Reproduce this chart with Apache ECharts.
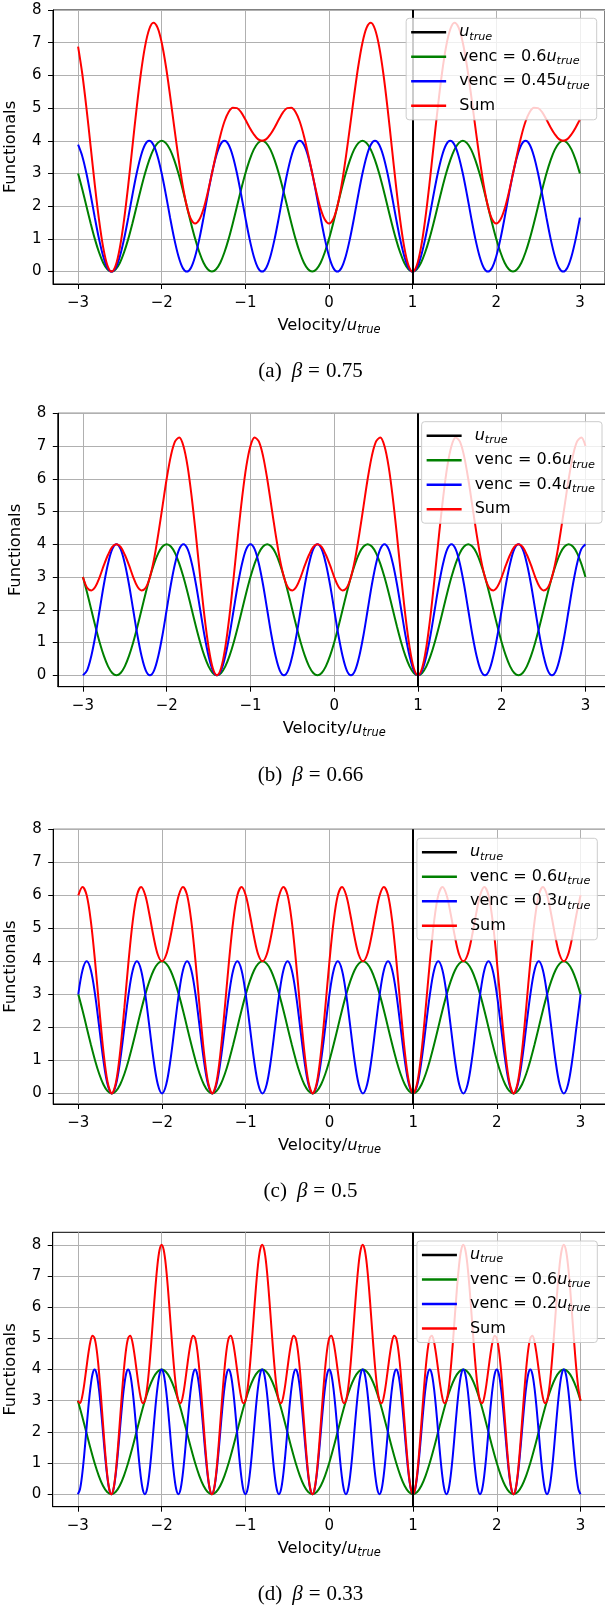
<!DOCTYPE html>
<html><head><meta charset="utf-8">
<script src="https://cdn.jsdelivr.net/npm/echarts@6/dist/echarts.min.js"></script>
<style>html,body{margin:0;padding:0;background:#fff}#chart{width:605px;height:1606px}</style>
</head><body><div id="chart"></div>
<script>
// ---------- data ----------
const velocity = [
-3,-2.95,-2.9,-2.85,-2.8,-2.75,-2.7,-2.65,-2.6,-2.55,-2.5,-2.45,-2.4,-2.35,-2.3,-2.25,-2.2,-2.15,-2.1,-2.05,
-2,-1.95,-1.9,-1.85,-1.8,-1.75,-1.7,-1.65,-1.6,-1.55,-1.5,-1.45,-1.4,-1.35,-1.3,-1.25,-1.2,-1.15,-1.1,-1.05,
-1,-0.95,-0.9,-0.85,-0.8,-0.75,-0.7,-0.65,-0.6,-0.55,-0.5,-0.45,-0.4,-0.35,-0.3,-0.25,-0.2,-0.15,-0.1,-0.05,
0,0.05,0.1,0.15,0.2,0.25,0.3,0.35,0.4,0.45,0.5,0.55,0.6,0.65,0.7,0.75,0.8,0.85,0.9,0.95,
1,1.05,1.1,1.15,1.2,1.25,1.3,1.35,1.4,1.45,1.5,1.55,1.6,1.65,1.7,1.75,1.8,1.85,1.9,1.95,
2,2.05,2.1,2.15,2.2,2.25,2.3,2.35,2.4,2.45,2.5,2.55,2.6,2.65,2.7,2.75,2.8,2.85,2.9,2.95,
3];
// finer velocity grid used for the fast-oscillating curves of panel (d)
const velocityFine = [
-3,-2.975,-2.95,-2.925,-2.9,-2.875,-2.85,-2.825,-2.8,-2.775,-2.75,-2.725,-2.7,-2.675,-2.65,-2.625,-2.6,-2.575,-2.55,-2.525,-2.5,-2.475,-2.45,-2.425,-2.4,-2.375,-2.35,-2.325,-2.3,-2.275,-2.25,-2.225,-2.2,-2.175,-2.15,-2.125,-2.1,-2.075,-2.05,-2.025,
-2,-1.975,-1.95,-1.925,-1.9,-1.875,-1.85,-1.825,-1.8,-1.775,-1.75,-1.725,-1.7,-1.675,-1.65,-1.625,-1.6,-1.575,-1.55,-1.525,-1.5,-1.475,-1.45,-1.425,-1.4,-1.375,-1.35,-1.325,-1.3,-1.275,-1.25,-1.225,-1.2,-1.175,-1.15,-1.125,-1.1,-1.075,-1.05,-1.025,
-1,-0.975,-0.95,-0.925,-0.9,-0.875,-0.85,-0.825,-0.8,-0.775,-0.75,-0.725,-0.7,-0.675,-0.65,-0.625,-0.6,-0.575,-0.55,-0.525,-0.5,-0.475,-0.45,-0.425,-0.4,-0.375,-0.35,-0.325,-0.3,-0.275,-0.25,-0.225,-0.2,-0.175,-0.15,-0.125,-0.1,-0.075,-0.05,-0.025,
0,0.025,0.05,0.075,0.1,0.125,0.15,0.175,0.2,0.225,0.25,0.275,0.3,0.325,0.35,0.375,0.4,0.425,0.45,0.475,0.5,0.525,0.55,0.575,0.6,0.625,0.65,0.675,0.7,0.725,0.75,0.775,0.8,0.825,0.85,0.875,0.9,0.925,0.95,0.975,
1,1.025,1.05,1.075,1.1,1.125,1.15,1.175,1.2,1.225,1.25,1.275,1.3,1.325,1.35,1.375,1.4,1.425,1.45,1.475,1.5,1.525,1.55,1.575,1.6,1.625,1.65,1.675,1.7,1.725,1.75,1.775,1.8,1.825,1.85,1.875,1.9,1.925,1.95,1.975,
2,2.025,2.05,2.075,2.1,2.125,2.15,2.175,2.2,2.225,2.25,2.275,2.3,2.325,2.35,2.375,2.4,2.425,2.45,2.475,2.5,2.525,2.55,2.575,2.6,2.625,2.65,2.675,2.7,2.725,2.75,2.775,2.8,2.825,2.85,2.875,2.9,2.925,2.95,2.975,
3];
const xTicks = [-3,-2,-1,0,1,2,3];
const yTicks = [0,1,2,3,4,5,6,7,8];
const uTrue = 1;

const greenVenc06 = [
3,2.52,2,1.48,1,0.59,0.27,0.07,0,0.07,0.27,0.59,1,1.48,2,2.52,3,3.41,3.73,3.93,4,3.93,3.73,3.41,
3,2.52,2,1.48,1,0.59,0.27,0.07,0,0.07,0.27,0.59,1,1.48,2,2.52,3,3.41,3.73,3.93,4,3.93,3.73,3.41,
3,2.52,2,1.48,1,0.59,0.27,0.07,0,0.07,0.27,0.59,1,1.48,2,2.52,3,3.41,3.73,3.93,4,3.93,3.73,3.41,
3,2.52,2,1.48,1,0.59,0.27,0.07,0,0.07,0.27,0.59,1,1.48,2,2.52,3,3.41,3.73,3.93,4,3.93,3.73,3.41,
3,2.52,2,1.48,1,0.59,0.27,0.07,0,0.07,0.27,0.59,1,1.48,2,2.52,3,3.41,3.73,3.93,4,3.93,3.73,3.41,
3];

const blueVenc045 = [
3.88,3.53,3,2.35,1.65,1,0.47,0.12,
0,0.12,0.47,1,1.65,2.35,3,3.53,3.88,4,3.88,3.53,3,2.35,1.65,1,0.47,0.12,
0,0.12,0.47,1,1.65,2.35,3,3.53,3.88,4,3.88,3.53,3,2.35,1.65,1,0.47,0.12,
0,0.12,0.47,1,1.65,2.35,3,3.53,3.88,4,3.88,3.53,3,2.35,1.65,1,0.47,0.12,
0,0.12,0.47,1,1.65,2.35,3,3.53,3.88,4,3.88,3.53,3,2.35,1.65,1,0.47,0.12,
0,0.12,0.47,1,1.65,2.35,3,3.53,3.88,4,3.88,3.53,3,2.35,1.65,1,0.47,0.12,
0,0.12,0.47,1,1.65,2.35,3,3.53,3.88,4,3.88,3.53,3,2.35,1.65,1,0.47,0.12,
0,0.12,0.47,1,1.65];
const sumBeta075 = [
6.88,6.05,5,3.83,2.65,1.59,0.74,0.19,
0,0.19,0.74,1.59,2.65,3.83,5,6.05,6.88,7.41,7.61,7.46,7,6.28,5.38,4.41,3.47,2.64,
2,1.6,1.47,1.59,1.92,2.42,3,3.6,4.15,4.59,4.88,5.01,5,4.87,4.65,4.41,4.2,4.05,
4,4.05,4.2,4.41,4.65,4.87,5,5.01,4.88,4.59,4.15,3.6,3,2.42,1.92,1.59,1.47,1.6,
2,2.64,3.47,4.41,5.38,6.28,7,7.46,7.61,7.41,6.88,6.05,5,3.83,2.65,1.59,0.74,0.19,
0,0.19,0.74,1.59,2.65,3.83,5,6.05,6.88,7.41,7.61,7.46,7,6.28,5.38,4.41,3.47,2.64,
2,1.6,1.47,1.59,1.92,2.42,3,3.6,4.15,4.59,4.88,5.01,5,4.87,4.65,4.41,4.2,4.05,
4,4.05,4.2,4.41,4.65];

const blueVenc04 = [
0,0.15,0.59,1.23,2,2.77,3.41,3.85,4,3.85,3.41,2.77,2,1.23,0.59,0.15,
0,0.15,0.59,1.23,2,2.77,3.41,3.85,4,3.85,3.41,2.77,2,1.23,0.59,0.15,
0,0.15,0.59,1.23,2,2.77,3.41,3.85,4,3.85,3.41,2.77,2,1.23,0.59,0.15,
0,0.15,0.59,1.23,2,2.77,3.41,3.85,4,3.85,3.41,2.77,2,1.23,0.59,0.15,
0,0.15,0.59,1.23,2,2.77,3.41,3.85,4,3.85,3.41,2.77,2,1.23,0.59,0.15,
0,0.15,0.59,1.23,2,2.77,3.41,3.85,4,3.85,3.41,2.77,2,1.23,0.59,0.15,
0,0.15,0.59,1.23,2,2.77,3.41,3.85,4,3.85,3.41,2.77,2,1.23,0.59,0.15,
0,0.15,0.59,1.23,2,2.77,3.41,3.85,4];
const sumBeta066 = [
3,2.67,2.59,2.71,3,3.36,3.68,3.92,4,3.92,3.68,3.36,3,2.71,2.59,2.67,
3,3.56,4.32,5.16,6,6.7,7.14,7.26,7,6.37,5.41,4.25,3,1.82,0.86,0.22,
0,0.22,0.86,1.82,3,4.25,5.41,6.37,7,7.26,7.14,6.7,6,5.16,4.32,3.56,
3,2.67,2.59,2.71,3,3.36,3.68,3.92,4,3.92,3.68,3.36,3,2.71,2.59,2.67,
3,3.56,4.32,5.16,6,6.7,7.14,7.26,7,6.37,5.41,4.25,3,1.82,0.86,0.22,
0,0.22,0.86,1.82,3,4.25,5.41,6.37,7,7.26,7.14,6.7,6,5.16,4.32,3.56,
3,2.67,2.59,2.71,3,3.36,3.68,3.92,4,3.92,3.68,3.36,3,2.71,2.59,2.67,
3,3.56,4.32,5.16,6,6.7,7.14,7.26,7];

const blueVenc03 = [
3,3.73,4,3.73,3,2,1,0.27,
0,0.27,1,2,3,3.73,4,3.73,3,2,1,0.27,
0,0.27,1,2,3,3.73,4,3.73,3,2,1,0.27,
0,0.27,1,2,3,3.73,4,3.73,3,2,1,0.27,
0,0.27,1,2,3,3.73,4,3.73,3,2,1,0.27,
0,0.27,1,2,3,3.73,4,3.73,3,2,1,0.27,
0,0.27,1,2,3,3.73,4,3.73,3,2,1,0.27,
0,0.27,1,2,3,3.73,4,3.73,3,2,1,0.27,
0,0.27,1,2,3,3.73,4,3.73,3,2,1,0.27,
0,0.27,1,2,3,3.73,4,3.73,3,2,1,0.27,
0,0.27,1,2,3];
const sumBeta05 = [
6,6.25,6,5.21,4,2.59,1.27,0.34,
0,0.34,1.27,2.59,4,5.21,6,6.25,6,5.41,4.73,4.2,4,4.2,4.73,5.41,6,6.25,6,5.21,4,2.59,1.27,0.34,
0,0.34,1.27,2.59,4,5.21,6,6.25,6,5.41,4.73,4.2,4,4.2,4.73,5.41,6,6.25,6,5.21,4,2.59,1.27,0.34,
0,0.34,1.27,2.59,4,5.21,6,6.25,6,5.41,4.73,4.2,4,4.2,4.73,5.41,6,6.25,6,5.21,4,2.59,1.27,0.34,
0,0.34,1.27,2.59,4,5.21,6,6.25,6,5.41,4.73,4.2,4,4.2,4.73,5.41,6,6.25,6,5.21,4,2.59,1.27,0.34,
0,0.34,1.27,2.59,4,5.21,6,6.25,6,5.41,4.73,4.2,4,4.2,4.73,5.41,6];

// panel (d) curves, on velocityFine
const blueVenc02 = [
0,0.15,0.59,1.23,2,2.77,3.41,3.85,4,3.85,3.41,2.77,2,1.23,0.59,0.15,
0,0.15,0.59,1.23,2,2.77,3.41,3.85,4,3.85,3.41,2.77,2,1.23,0.59,0.15,
0,0.15,0.59,1.23,2,2.77,3.41,3.85,4,3.85,3.41,2.77,2,1.23,0.59,0.15,
0,0.15,0.59,1.23,2,2.77,3.41,3.85,4,3.85,3.41,2.77,2,1.23,0.59,0.15,
0,0.15,0.59,1.23,2,2.77,3.41,3.85,4,3.85,3.41,2.77,2,1.23,0.59,0.15,
0,0.15,0.59,1.23,2,2.77,3.41,3.85,4,3.85,3.41,2.77,2,1.23,0.59,0.15,
0,0.15,0.59,1.23,2,2.77,3.41,3.85,4,3.85,3.41,2.77,2,1.23,0.59,0.15,
0,0.15,0.59,1.23,2,2.77,3.41,3.85,4,3.85,3.41,2.77,2,1.23,0.59,0.15,
0,0.15,0.59,1.23,2,2.77,3.41,3.85,4,3.85,3.41,2.77,2,1.23,0.59,0.15,
0,0.15,0.59,1.23,2,2.77,3.41,3.85,4,3.85,3.41,2.77,2,1.23,0.59,0.15,
0,0.15,0.59,1.23,2,2.77,3.41,3.85,4,3.85,3.41,2.77,2,1.23,0.59,0.15,
0,0.15,0.59,1.23,2,2.77,3.41,3.85,4,3.85,3.41,2.77,2,1.23,0.59,0.15,
0,0.15,0.59,1.23,2,2.77,3.41,3.85,4,3.85,3.41,2.77,2,1.23,0.59,0.15,
0,0.15,0.59,1.23,2,2.77,3.41,3.85,4,3.85,3.41,2.77,2,1.23,0.59,0.15,
0,0.15,0.59,1.23,2,2.77,3.41,3.85,4,3.85,3.41,2.77,2,1.23,0.59,0.15,
0];
const sumBeta033 = [
3,2.92,3.1,3.5,4,4.5,4.9,5.08,5,4.63,4,3.18,2.27,1.39,0.65,0.17,0,0.17,0.65,1.39,2.27,3.18,4,4.63,5,5.08,4.9,4.5,4,3.5,3.1,2.92,3,3.37,4,4.82,5.73,6.61,7.35,7.83,8,7.83,7.35,6.61,5.73,4.82,4,3.37,
3,2.92,3.1,3.5,4,4.5,4.9,5.08,5,4.63,4,3.18,2.27,1.39,0.65,0.17,0,0.17,0.65,1.39,2.27,3.18,4,4.63,5,5.08,4.9,4.5,4,3.5,3.1,2.92,3,3.37,4,4.82,5.73,6.61,7.35,7.83,8,7.83,7.35,6.61,5.73,4.82,4,3.37,
3,2.92,3.1,3.5,4,4.5,4.9,5.08,5,4.63,4,3.18,2.27,1.39,0.65,0.17,0,0.17,0.65,1.39,2.27,3.18,4,4.63,5,5.08,4.9,4.5,4,3.5,3.1,2.92,3,3.37,4,4.82,5.73,6.61,7.35,7.83,8,7.83,7.35,6.61,5.73,4.82,4,3.37,
3,2.92,3.1,3.5,4,4.5,4.9,5.08,5,4.63,4,3.18,2.27,1.39,0.65,0.17,0,0.17,0.65,1.39,2.27,3.18,4,4.63,5,5.08,4.9,4.5,4,3.5,3.1,2.92,3,3.37,4,4.82,5.73,6.61,7.35,7.83,8,7.83,7.35,6.61,5.73,4.82,4,3.37,
3,2.92,3.1,3.5,4,4.5,4.9,5.08,5,4.63,4,3.18,2.27,1.39,0.65,0.17,0,0.17,0.65,1.39,2.27,3.18,4,4.63,5,5.08,4.9,4.5,4,3.5,3.1,2.92,3,3.37,4,4.82,5.73,6.61,7.35,7.83,8,7.83,7.35,6.61,5.73,4.82,4,3.37,
3];

const panelTags = ['(a)','(b)','(c)','(d)'];
const betaValues = ['0.75','0.66','0.5','0.33'];
const blueNames = ['venc = 0.45u_true','venc = 0.4u_true','venc = 0.3u_true','venc = 0.2u_true'];
const blueSeries = [blueVenc045, blueVenc04, blueVenc03, blueVenc02];
const sumSeries = [sumBeta075, sumBeta066, sumBeta05, sumBeta033];
const panelVelocity = [velocity, velocity, velocity, velocityFine];
const trueName = 'u_true';
const greenName = 'venc = 0.6u_true';
const sumName = 'Sum';

// ---------- layout / style ----------
const layouts = [
  {left:53,   top:10,     right:0,    height:274,   yMin:-0.38, yMax:8,   legRight:8.3, legTop:18.3,  capY:371.7},
  {left:57.8, top:413.3,  right:-5.6, height:273.4, yMin:-0.35, yMax:8,   legRight:3,   legTop:421.7, capY:775},
  {left:53.2, top:829.3,  right:-0.7, height:274.7, yMin:-0.32, yMax:8,   legRight:7.7, legTop:838.3, capY:1191.8},
  {left:52.7, top:1232.3, right:-0.7, height:274.4, yMin:-0.4,  yMax:8.4, legRight:7.7, legTop:1241,  capY:1594}
];
const FONT = "'DejaVu Sans', sans-serif";
const SERIF = "'Liberation Serif', 'DejaVu Serif', serif";
const richSub = (size, lh) => ({
  i: {fontFamily: FONT, fontStyle: 'italic', fontSize: size, lineHeight: lh, color: '#000'},
  s: {fontFamily: FONT, fontStyle: 'italic', fontSize: size * 0.7, lineHeight: 11, verticalAlign: 'bottom', color: '#000'}
});
const toRich = name => name.replace('u_true', '{i|u}{s|true}');
const minusFmt = v => (v < 0 ? '\u2212' + Math.abs(v) : String(v));

const grids = [], xAxes = [], yAxes = [], series = [], legends = [], graphics = [];
layouts.forEach((l, p) => {
  grids.push({left: l.left, top: l.top, right: l.right, height: l.height, show: true,
    borderColor: '#000', borderWidth: 1, backgroundColor: 'transparent',
    containLabel: false, outerBoundsMode: 'none'});
  xAxes.push({type: 'value', gridIndex: p, min: -3.3, max: 3.3, minInterval: 1, maxInterval: 1, splitNumber: 6,
    axisLine: {show: true, onZero: false, lineStyle: {color: '#000', width: 1}},
    axisTick: {show: true, customValues: xTicks, length: 5, lineStyle: {color: '#000', width: 1}},
    axisLabel: {customValues: xTicks, formatter: minusFmt, color: '#000', fontSize: 15, fontFamily: FONT, margin: 11, lineHeight: 16},
    splitLine: {show: true, lineStyle: {color: '#b0b0b0', width: 1}},
    name: 'Velocity/{i|u}{s|true}', nameLocation: 'middle', nameGap: 32,
    nameTextStyle: {fontFamily: FONT, fontSize: 16.3, color: '#000', lineHeight: 20, rich: richSub(16.3, 20)}
  });
  yAxes.push({type: 'value', gridIndex: p, min: l.yMin, max: l.yMax, minInterval: 1, maxInterval: 1, splitNumber: 8,
    axisLine: {show: true, onZero: false, lineStyle: {color: '#000', width: 1}},
    axisTick: {show: true, customValues: yTicks, length: 5, lineStyle: {color: '#000', width: 1}},
    axisLabel: {customValues: yTicks, color: '#000', fontSize: 15, fontFamily: FONT, margin: 11.5},
    splitLine: {show: true, lineStyle: {color: '#b0b0b0', width: 1}},
    name: 'Functionals', nameLocation: 'middle', nameGap: 27,
    nameTextStyle: {fontFamily: FONT, fontSize: 16.3, color: '#000', lineHeight: 20}
  });
  const lineBase = {type: 'line', xAxisIndex: p, yAxisIndex: p, showSymbol: false, symbol: 'none',
    smooth: 0.33, animation: false, z: 2};
  const xs = panelVelocity[p];
  series.push({type: 'line', name: trueName, xAxisIndex: p, yAxisIndex: p, data: [], color: '#000',
    itemStyle: {color: '#000'}, lineStyle: {color: '#000', width: 2}, z: 1, animation: false,
    markLine: {silent: true, symbol: ['none', 'none'], label: {show: false}, animation: false,
      lineStyle: {color: '#000', width: 2, type: 'solid'}, data: [{xAxis: uTrue}]}});
  series.push(Object.assign({}, lineBase, {name: greenName, color: '#008000', itemStyle: {color: '#008000'},
    lineStyle: {color: '#008000', width: 2}, data: velocity.map((v, i) => [v, greenVenc06[i]])}));
  series.push(Object.assign({}, lineBase, {name: blueNames[p], color: '#0000ff', itemStyle: {color: '#0000ff'},
    lineStyle: {color: '#0000ff', width: 2}, data: xs.map((v, i) => [v, blueSeries[p][i]])}));
  series.push(Object.assign({}, lineBase, {name: sumName, color: '#ff0000', itemStyle: {color: '#ff0000'},
    lineStyle: {color: '#ff0000', width: 2}, data: xs.map((v, i) => [v, sumSeries[p][i]])}));
  legends.push({orient: 'vertical', align: 'left', right: l.legRight, top: l.legTop, icon: 'rect',
    itemWidth: 35, itemHeight: 2.5, itemGap: 4.5, padding: [4, 7, 4, 5],
    backgroundColor: 'rgba(255,255,255,0.8)', borderColor: '#cccccc', borderWidth: 1, borderRadius: 3,
    selectedMode: false, z: 10,
    data: [trueName, greenName, blueNames[p], sumName],
    formatter: toRich,
    textStyle: {fontFamily: FONT, fontSize: 16, color: '#000', lineHeight: 20, padding: [0, 0, 0, 8], rich: richSub(16, 20)}
  });
  graphics.push({type: 'text', x: 310.5, y: l.capY, silent: true,
    style: {text: '{n|' + panelTags[p] + '}{b|\u03b2}{e|=}{n|' + betaValues[p] + '}',
      align: 'center', verticalAlign: 'middle', textAlign: 'center', textVerticalAlign: 'middle', fill: '#000',
      rich: {n: {fontFamily: SERIF, fontSize: 21, fill: '#000'},
             b: {fontFamily: SERIF, fontStyle: 'italic', fontSize: 21, fill: '#000', padding: [0, 0, 0, 10]},
             e: {fontFamily: SERIF, fontSize: 21, fill: '#000', padding: [0, 6, 0, 6]}}}});
});

const chart = echarts.init(document.getElementById('chart'), null, {renderer: 'canvas'});
chart.setOption({
  animation: false,
  backgroundColor: '#fff',
  grid: grids, xAxis: xAxes, yAxis: yAxes, legend: legends, series: series, graphic: graphics
});
</script></body></html>
